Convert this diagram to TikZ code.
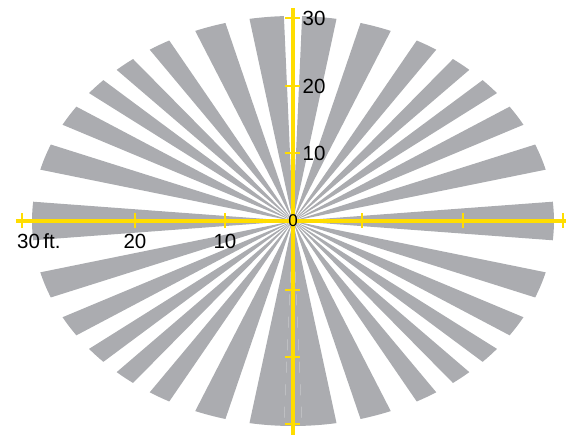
\documentclass[tikz,border=0pt]{standalone}
\usepackage{fontspec}
\setmainfont{Liberation Sans}
\usetikzlibrary{calc}
\definecolor{fangray}{RGB}{171,172,176}
\definecolor{axisyellow}{RGB}{255,221,0}

\begin{document}
\begin{tikzpicture}[x=1pt,y=1pt,
	  wedge/.style={fill=fangray,draw=none},
	  axis line/.style={draw=axisyellow,line width=4.5pt},
	  tick line/.style={draw=axisyellow,line width=2pt},
	  scale label/.style={font=\fontsize{20.5}{20.5}\selectfont,inner sep=1pt}]

	  \useasboundingbox (-293,-214) rectangle (273,221);
	  \coordinate (origin) at (0,0);

	  % one quadrant of wedges, mirrored into the other three
	  \foreach \s/\e in {14.5/21.9, 28.0/33.9, 38.6/43.4, 47.5/52.2, 56.7/61.7, 68.0/75.0, 80.4/88.0}{
	    \foreach \q in {0,180}{
	      \fill[wedge] (origin) -- (\q+\s:261 and 205) arc[start angle=\q+\s, end angle=\q+\e, x radius=261, y radius=205] -- cycle;
	      \fill[wedge] (origin) -- (\q-\s:261 and 205) arc[start angle=\q-\s, end angle=\q-\e, x radius=261, y radius=205] -- cycle;
	    }
	  }
	  \foreach \s/\e in {-5.4/5.4, 174.6/185.4, 268/272}
	    \fill[wedge] (origin) -- (\s:261 and 205) arc[start angle=\s, end angle=\e, x radius=261, y radius=205] -- cycle;

	  \coordinate (west end) at (-277,0);
	  \coordinate (east end) at (273,0);
	  \coordinate (north end) at (0,213);
	  \coordinate (south end) at (0,-214);
	  \draw[axis line] (west end) -- (east end);
	  \draw[axis line] (north end) -- (south end);

	  \foreach \n/\x in {w3/-271, w2/-158, w1/-68, e1/69, e2/170, e3/270}{
	    \coordinate (tick \n) at (\x,0);
	    \draw[tick line] ($ (tick \n) + (0,7.5) $) -- ($ (tick \n) + (0,-7.5) $);
	  }
	  \foreach \n/\y in {n3/203, n2/135, n1/68, s1/-69, s2/-136, s3/-203}{
	    \coordinate (tick \n) at (0,\y);
	    \draw[tick line] ($ (tick \n) + (-7.5,0) $) -- ($ (tick \n) + (7.5,0) $);
	  }

	  \node[scale label, anchor=west] (label n3) at ($ (tick n3) + (8.5,0) $) {30};
	  \node[scale label, anchor=west] (label n2) at ($ (tick n2) + (8.5,0) $) {20};
	  \node[scale label, anchor=west] (label n1) at ($ (tick n1) + (8.5,0) $) {10};
	  \node[scale label, anchor=west] (label w3) at ($ (tick w3) + (-6,-20) $) {30\,ft.};
	  \node[scale label] (label w2) at ($ (tick w2) + (0,-20) $) {20};
	  \node[scale label] (label w1) at ($ (tick w1) + (0,-20) $) {10};
	  \node[scale label, font=\fontsize{17}{17}\selectfont] (zero) at (origin) {0};
	\end{tikzpicture}
\end{document}
